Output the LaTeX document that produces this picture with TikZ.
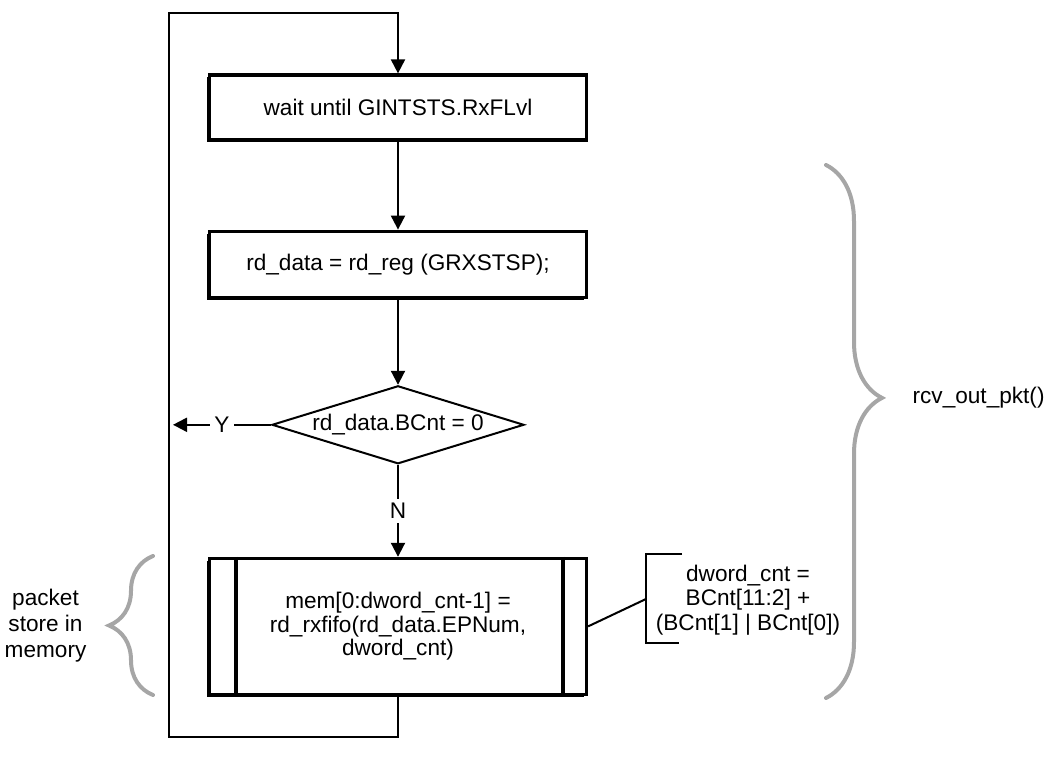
\documentclass[tikz,border=0pt]{standalone}
\usepackage{fontspec}
\setmainfont{Liberation Sans}
\usetikzlibrary{arrows.meta, positioning, shapes, shadows, decorations.pathreplacing}

\begin{document}
\begin{tikzpicture}[x=0.5pt, y=-0.5pt,
    font=\fontsize{11.3}{11.7}\selectfont,
    box/.style={rectangle, draw, fill=white, line width=1.6pt,
                minimum width=188.5pt, minimum height=32.5pt, align=center,
                drop shadow={shadow xshift=-1.2pt, shadow yshift=-1.2pt, fill=black, opacity=1}},
    decision/.style={diamond, draw, fill=white, line width=1pt, aspect=3.2, inner sep=0pt,
                minimum width=126pt, minimum height=39pt},
    arrow/.style={-{Triangle[length=7pt, width=7pt]}, line width=1pt},
    line/.style={line width=1pt},
    brace/.style={decorate, draw=black!35, line width=2pt, line cap=round}]

\useasboundingbox (0,0) rectangle (1046,758);

\node[box] (wait) at (398,107.5) {wait until GINTSTS.RxFLvl};
\node[box, below=44pt of wait, minimum height=33pt] (rdreg) {rd\_data = rd\_reg (GRXSTSP);};
\node[decision, below=43pt of rdreg] (bcnt) {rd\_data.BCnt = 0};
\node[box, below=46pt of bcnt, minimum height=68pt] (rxfifo)
    {mem[0:dword\_cnt-1] =\\ rd\_rxfifo(rd\_data.EPNum,\\ dword\_cnt)};
\draw[line width=1.8pt] ([xshift=14pt]rxfifo.north west) -- ([xshift=14pt]rxfifo.south west);
\draw[line width=1.8pt] ([xshift=-12.5pt]rxfifo.north east) -- ([xshift=-12.5pt]rxfifo.south east);

% loop back to the top
\coordinate (loopnw) at (169,13);
\coordinate (loopsw) at (169,737);
\coordinate (ytip) at ([xshift=2pt]bcnt.west -| loopnw);

\draw[arrow] (wait) -- (rdreg);
\draw[arrow] (rdreg) -- (bcnt);
\draw[arrow] (bcnt) -- node[fill=white, inner sep=2pt] {N} (rxfifo);
\draw[arrow] (bcnt) -- node[fill=white, inner sep=2pt] {Y} (ytip);
\draw[arrow] (rxfifo.south) -- (rxfifo.south |- loopsw) -- (loopsw) -- (loopnw)
    -- (loopnw -| wait.north) -- (wait.north);

% dword count note
\node[align=center, font=\fontsize{11.3}{12.3}\selectfont] (cntnote) at (748,600)
    {dword\_cnt =\\ BCnt[11:2] +\\ (BCnt[1] | BCnt[0])};
\coordinate (brk) at (646,599);
\draw[line] (682,554) -| (646,643) -- (679,643);
\draw[line] (rxfifo.east) -- (brk);

% braces
\draw[brace, decoration={brace, amplitude=22pt}] (153,695) --
    node[left=29pt, align=center, text=black, font=\fontsize{11.3}{13}\selectfont] (pktlbl)
    {packet\\ store in\\ memory} (153,556);
\draw[brace, decoration={brace, amplitude=28pt, aspect=0.437}] (826,165) --
    node[pos=0.437, right=39pt, text=black] (rcvlbl) {rcv\_out\_pkt()} (826,698);
\end{tikzpicture}
\end{document}
